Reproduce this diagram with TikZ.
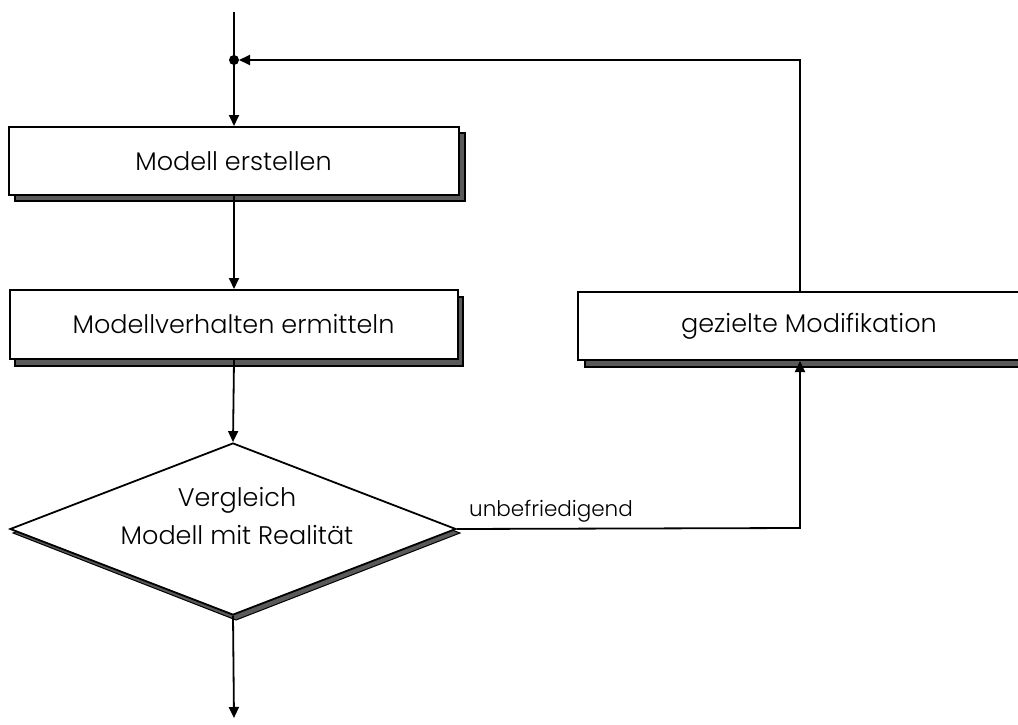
\documentclass[tikz,border=0pt]{standalone}
\usepackage{fontspec}
\setmainfont{Poppins}[UprightFont=* Light]
\usetikzlibrary{arrows.meta,shapes.geometric}
\definecolor{shadowgray}{HTML}{5A5A5A}
\tikzset{
  box/.style={draw=black, line width=2pt, fill=white, minimum height=68pt, inner sep=0pt, font=\fontsize{25.5}{30}\selectfont},
  conn/.style={line width=1.8pt, -{Triangle[length=11pt,width=10pt]}},
  plain/.style={line width=1.8pt},
}
\begin{document}
\begin{tikzpicture}[x=1pt,y=-1pt]
\clip (0,0) rectangle (1018,725);
\useasboundingbox (0,0) rectangle (1018,725);
% shadows
\fill[shadowgray, draw=black, line width=1.2pt] (15,133) rectangle (465,201);
\fill[shadowgray, draw=black, line width=1.2pt] (15,297) rectangle (463,366);
\fill[shadowgray, draw=black, line width=1.2pt] (585,299) rectangle (1040,367);
\fill[shadowgray, draw=black, line width=1pt] (13,533) -- (236,448) -- (460,533) -- (236,620) -- cycle;
% nodes
\node[box, minimum width=450pt] (b1) at (233.5,161) {Modell erstellen};
\node[box, minimum width=448pt, minimum height=69pt] (b2) at (233.5,324.5) {Modellverhalten ermitteln};
\node[box, minimum width=462pt] (b3) at (809,326) {gezielte Modifikation};
\node[diamond, draw=black, line width=1.8pt, fill=white, minimum width=446pt, minimum height=172pt, inner sep=0pt, aspect=2.6] (d) at (233,529) {};
\node[font=\fontsize{25.5}{38}\selectfont, align=center, inner sep=0pt] (dt) at (237,516) {Vergleich\\Modell mit Realität};
% coordinates
\coordinate (top) at (234,12);
\coordinate (j) at (234,60);
\coordinate (end) at (234,718);
\coordinate (c1) at (800,528);
\coordinate (c2) at (800,60);
\fill (j) circle (5pt);
% connectors
\draw[plain] (top) -- (j);
\draw[conn] (j) -- (b1.north -| j);
\draw[conn] (b1.south -| j) -- (b2.north -| j);
\draw[conn] (b2.south -| j) -- (d.north);
\draw[conn] (d.south) -- (end);
\draw[conn] (d.east) -- (c1) -- (b3.south -| c1);
\draw[conn] (b3.north -| c2) -- (c2) -- ([xshift=5pt]j);
\node[anchor=south west, inner sep=0pt, font=\fontsize{21.5}{24}\selectfont] (lab) at (469,522) {unbefriedigend};
\end{tikzpicture}
\end{document}
